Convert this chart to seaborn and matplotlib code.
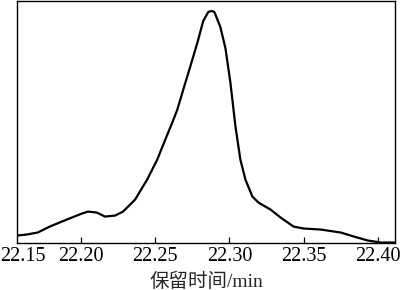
import matplotlib
matplotlib.use("Agg")
import matplotlib.pyplot as plt
import seaborn as sns
import pandas as pd

retention_time = [22.1568, 22.1635, 22.1709, 22.1791, 22.1905, 22.2007, 22.2047, 22.2108,
                  22.2162, 22.2230, 22.2284, 22.2365, 22.2446, 22.2514, 22.2568, 22.2615,
                  22.2649, 22.2689, 22.2736, 22.2784, 22.2824, 22.2858, 22.2879, 22.2899, 22.2939,
                  22.2973, 22.3007, 22.3041, 22.3074, 22.3108, 22.3155, 22.3196, 22.3277,
                  22.3345, 22.3432, 22.3500, 22.3615, 22.3750, 22.3838, 22.3932, 22.4020,
                  22.4122]
intensity = [7, 8, 10, 16, 23, 29, 31, 30,
             26, 27, 31, 43, 63, 83, 103, 120,
             133, 153, 176, 200, 222, 231, 232, 231, 216,
             195, 160, 116, 83, 63, 46, 40, 33,
             25, 16, 14, 13, 10, 6, 2, 0,
             0]
tick_values = [22.1612, 22.20, 22.25, 22.30, 22.35, 22.40]
tick_labels = ["22.15", "22.20", "22.25", "22.30", "22.35", "22.40"]
x_label = "保留时间/min"

df = pd.DataFrame({"t": retention_time, "y": intensity})

sns.set_style("ticks")
plt.rcParams["font.family"] = ["Liberation Serif", "Noto Sans CJK SC"]

fig = plt.figure(figsize=(4.0, 2.9), dpi=100)
ax = fig.add_axes([0.0425, 0.162, 0.945, 0.8346])
sns.lineplot(data=df, x="t", y="y", ax=ax, color="black", linewidth=1.6)

ax.set_xlim(22.157, 22.4115)
ax.set_ylim(-0.5, 242)
ax.set_xticks(tick_values)
ax.set_xticklabels(tick_labels, fontsize=14.5)
ax.set_yticks([])
ax.set_ylabel("")
ax.set_xlabel(x_label, fontsize=14, labelpad=5)
ax.tick_params(axis="x", direction="in", length=4, width=0.9, pad=3, colors="black")
ax.get_xticklines()[0].set_visible(False)
ax.get_xticklines()[1].set_visible(False)
for s in ax.spines.values():
    s.set_visible(True)
    s.set_linewidth(1.0)
    s.set_color("black")

fig.savefig("out.png", dpi=100)
